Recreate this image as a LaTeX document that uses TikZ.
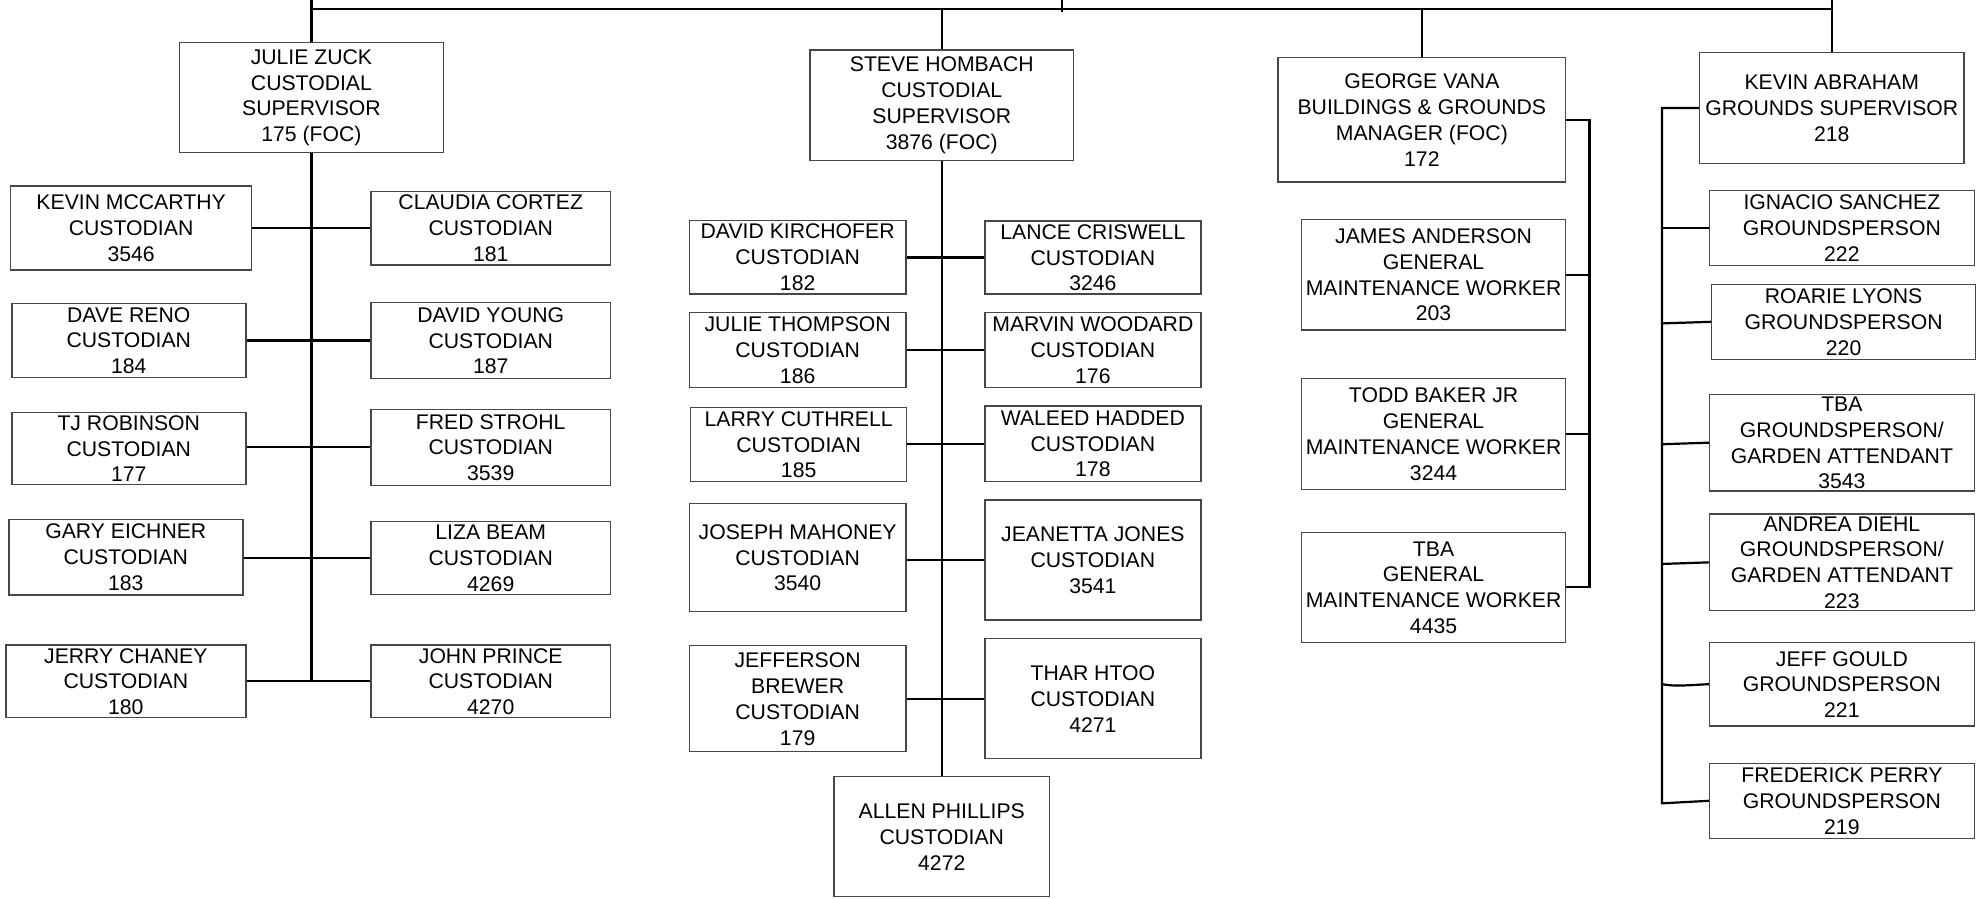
\documentclass[tikz,border=0pt]{standalone}
\usepackage{fontspec}
\setmainfont{Liberation Sans}
\usetikzlibrary{calc}
\newcommand\orgbox[6]{%
  \pgfmathsetmacro\bxw{#4-#2}\pgfmathsetmacro\bxh{#5-#3}%
  \pgfmathsetmacro\bxx{(#2+#4)/2}\pgfmathsetmacro\bxy{(#3+#5)/2}%
  \node[bx, minimum width=\bxw pt, minimum height=\bxh pt] (#1) at (\bxx,\bxy) {};
  \node[txt] at ($(#1.center)+(0,0.3)$) {#6};}
\begin{document}
\begin{tikzpicture}[x=1pt,y=-1pt,
  bx/.style={draw=black!72, line width=1.4pt, rectangle, inner sep=0pt, fill=none},
  txt/.style={align=center, inner sep=0pt, font=\fontsize{21.2}{25.8}\selectfont},
  conn/.style={draw=black, line width=2.2pt}]
\useasboundingbox (0,0) rectangle (1980,898);
% ---- boxes: Julie Zuck group
\orgbox{jz}{179.7}{42.3}{443.2}{152.7}{JULIE ZUCK\\CUSTODIAL\\SUPERVISOR\\175 (FOC)}
\orgbox{kmc}{10.5}{186}{251.7}{270}{KEVIN MCCARTHY\\CUSTODIAN\\3546}
\orgbox{cc}{370.8}{191.3}{610.7}{265}{CLAUDIA CORTEZ\\CUSTODIAN\\181}
\orgbox{dr}{11.8}{303.3}{245.8}{377.3}{DAVE RENO\\CUSTODIAN\\184}
\orgbox{dy}{370.8}{302.7}{610.7}{378.3}{DAVID YOUNG\\CUSTODIAN\\187}
\orgbox{tj}{11.8}{412.3}{245.8}{484.3}{TJ ROBINSON\\CUSTODIAN\\177}
\orgbox{fs}{370.8}{409.3}{610.7}{485.3}{FRED STROHL\\CUSTODIAN\\3539}
\orgbox{ge}{8.8}{519.3}{242.8}{595}{GARY EICHNER\\CUSTODIAN\\183}
\orgbox{lb}{370.8}{521.3}{610.7}{594.3}{LIZA BEAM\\CUSTODIAN\\4269}
\orgbox{jc}{5.9}{645}{245.8}{717.7}{JERRY CHANEY\\CUSTODIAN\\180}
\orgbox{jp}{370.8}{645}{610.7}{717.7}{JOHN PRINCE\\CUSTODIAN\\4270}
% ---- Steve Hombach group
\orgbox{sh}{809.8}{50}{1073.7}{160.3}{STEVE HOMBACH\\CUSTODIAL\\SUPERVISOR\\3876 (FOC)}
\orgbox{dk}{689.5}{220.3}{905.8}{294}{DAVID KIRCHOFER\\CUSTODIAN\\182}
\orgbox{lcr}{984.9}{221}{1200.8}{294}{LANCE CRISWELL\\CUSTODIAN\\3246}
\orgbox{jt}{689.5}{312.3}{905.8}{387.7}{JULIE THOMPSON\\CUSTODIAN\\186}
\orgbox{mw}{984.9}{312.3}{1200.8}{387.7}{MARVIN WOODARD\\CUSTODIAN\\176}
\orgbox{lcu}{690.7}{407.3}{906.6}{481.7}{LARRY CUTHRELL\\CUSTODIAN\\185}
\orgbox{wh}{984.9}{406}{1200.8}{481.3}{WALEED HADDED\\CUSTODIAN\\178}
\orgbox{jm}{689.5}{503.3}{905.8}{611.7}{JOSEPH MAHONEY\\CUSTODIAN\\3540}
\orgbox{jj}{984.9}{500}{1200.8}{620}{JEANETTA JONES\\CUSTODIAN\\3541}
\orgbox{jb}{689.5}{645.7}{905.8}{751.7}{JEFFERSON\\BREWER\\CUSTODIAN\\179}
\orgbox{th}{984.9}{638.7}{1200.8}{758.7}{THAR HTOO\\CUSTODIAN\\4271}
\orgbox{ap}{833.8}{776.7}{1049.7}{896.7}{ALLEN PHILLIPS\\CUSTODIAN\\4272}
% ---- George Vana group
\orgbox{gv}{1278}{57.7}{1565.7}{182}{GEORGE VANA\\BUILDINGS \& GROUNDS\\MANAGER (FOC)\\172}
\orgbox{ja}{1301.4}{219.3}{1565.7}{330}{JAMES ANDERSON\\GENERAL\\MAINTENANCE WORKER\\203}
\orgbox{tb}{1301.4}{378.3}{1565.7}{489.3}{TODD BAKER JR\\GENERAL\\MAINTENANCE WORKER\\3244}
\orgbox{tbg}{1301.4}{532.3}{1565.7}{642.3}{TBA\\GENERAL\\MAINTENANCE WORKER\\4435}
% ---- Kevin Abraham group
\orgbox{ka}{1699.6}{52.7}{1963.9}{163.3}{KEVIN ABRAHAM\\GROUNDS SUPERVISOR\\218}
\orgbox{is}{1709.5}{190.7}{1974.2}{265.3}{IGNACIO SANCHEZ\\GROUNDSPERSON\\222}
\orgbox{rl}{1711.7}{284.3}{1975.5}{359.3}{ROARIE LYONS\\GROUNDSPERSON\\220}
\orgbox{tga}{1709.5}{394.3}{1974.2}{491}{TBA\\GROUNDSPERSON/\\GARDEN ATTENDANT\\3543}
\orgbox{ad}{1709.5}{514}{1974.2}{610.7}{ANDREA DIEHL\\GROUNDSPERSON/\\GARDEN ATTENDANT\\223}
\orgbox{jg}{1709.5}{642.3}{1974.2}{726}{JEFF GOULD\\GROUNDSPERSON\\221}
\orgbox{fp}{1709.5}{763.3}{1974.2}{838.3}{FREDERICK PERRY\\GROUNDSPERSON\\219}
% ---- named free ends
\coordinate (top) at (0,0);
\coordinate (bar) at (0,9.3);
\coordinate (tick) at (1062,0);
\coordinate (gbus) at (1589.4,0);
\coordinate (kbus) at (1662,0);
% ---- top bar
\draw[conn] (jz.north |- bar) -- (ka.north |- bar);
\draw[conn] (jz.north) -- (jz.north |- top);
\draw[conn] (ka.north) -- (ka.north |- top);
\draw[conn] (sh.north) -- (sh.north |- bar);
\draw[conn] (gv.north) -- (gv.north |- bar);
\draw[conn] (tick) -- ++(0,11.7);
% ---- Julie Zuck trunk
\draw[conn] (jz.south) -- (jz.south |- jc.east);
\foreach \a/\b in {kmc/cc, dr/dy, tj/fs, ge/lb, jc/jp}
  \draw[conn] (\a.east |- \b.west) -- (\b.west);
% ---- Steve Hombach trunk
\draw[conn] (sh.south) -- (ap.north);
\foreach \a/\b in {dk/lcr, jt/mw, lcu/wh, jm/jj, jb/th}
  \draw[conn] (\a.east |- \b.west) -- (\b.west);
% ---- George Vana bus
\draw[conn] (gv.east) -- (gv.east -| gbus) -- (gbus |- tbg.east) -- (tbg.east);
\draw[conn] (ja.east) -- (ja.east -| gbus);
\draw[conn] (tb.east) -- (tb.east -| gbus);
% ---- Kevin Abraham bus
\draw[conn] (ka.west) -- (ka.west -| kbus) -- ($(kbus |- fp.west)+(0,2.5)$) -- (fp.west);
\draw[conn] (kbus |- is.west) -- (is.west);
\draw[conn] ($(kbus |- rl.west)+(0,1.6)$) -- (rl.west);
\draw[conn] ($(kbus |- tga.west)+(0,1.6)$) -- (tga.west);
\draw[conn] ($(kbus |- ad.west)+(0,1.6)$) -- (ad.west);
\draw[conn] (kbus |- jg.west) .. controls +(12,2.5) and +(-20,1) .. (jg.west);
\end{tikzpicture}
\end{document}
